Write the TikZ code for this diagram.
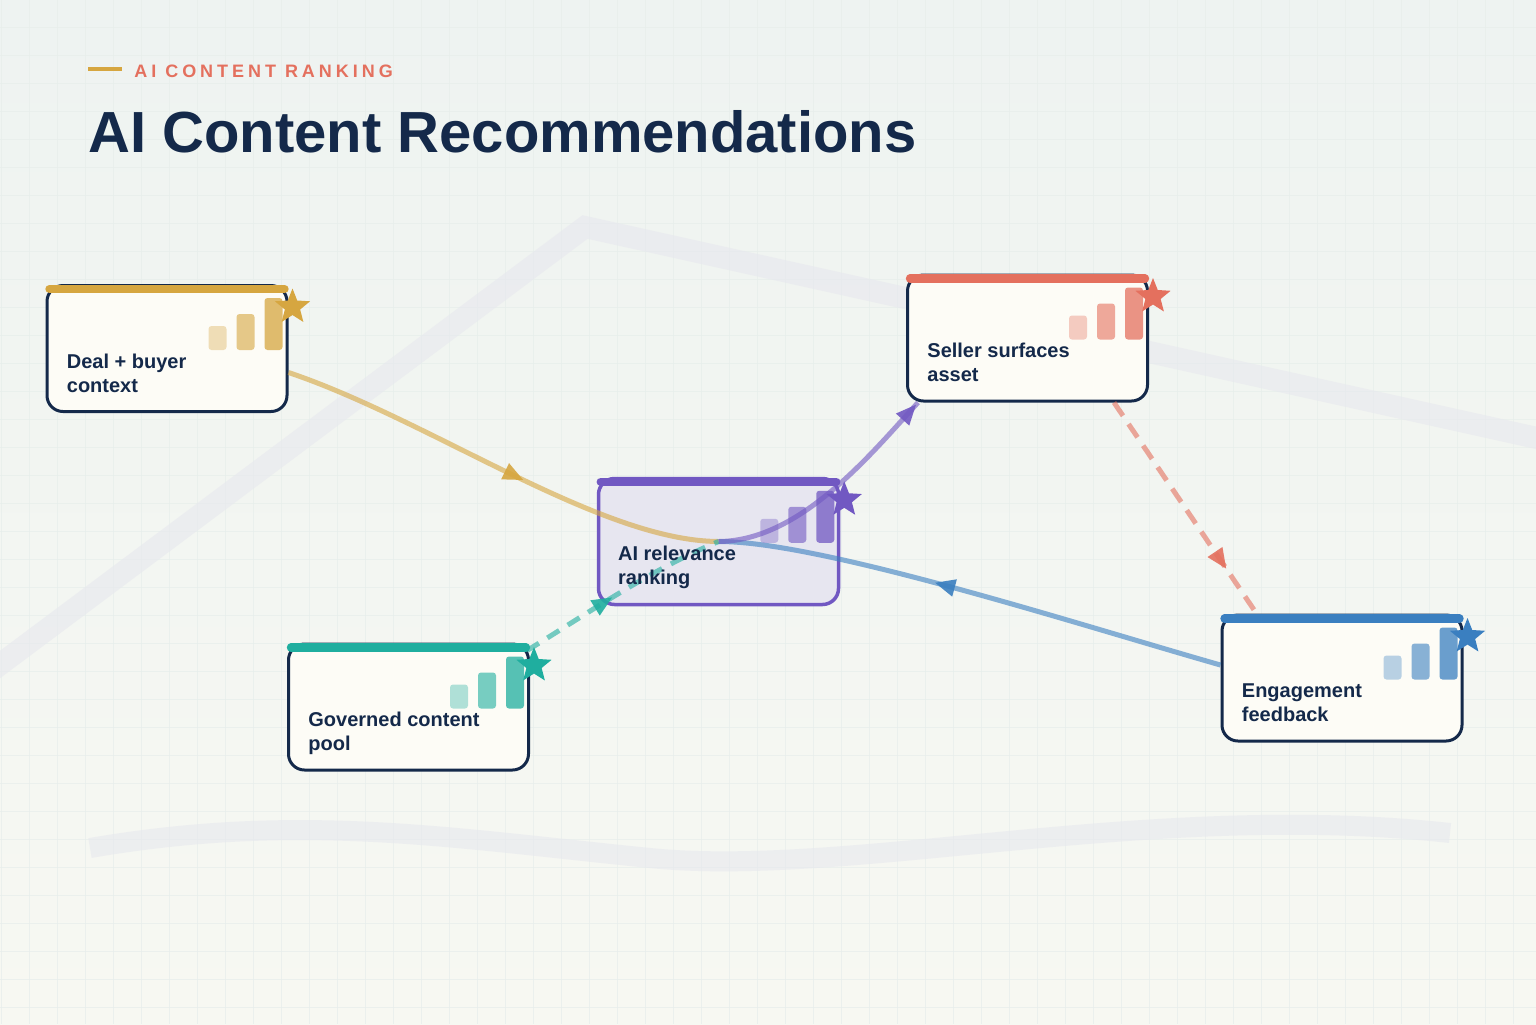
\documentclass[tikz,border=0pt]{standalone}
\usepackage{fontspec}
\setmainfont{Liberation Sans}
\usetikzlibrary{calc,arrows.meta,decorations.markings,shapes.geometric}
\definecolor{navy}{HTML}{14294A}
\definecolor{cgold}{HTML}{D6A640}
\definecolor{ccoral}{HTML}{E4705E}
\definecolor{cpurp}{HTML}{7158C2}
\definecolor{cteal}{HTML}{1FAE9F}
\definecolor{cblue}{HTML}{3A7FC0}
\definecolor{bgtop}{HTML}{EEF3F1}
\definecolor{bgbot}{HTML}{F7F8F2}
\definecolor{gridc}{HTML}{E7EEEB}
\definecolor{bandc}{HTML}{E7E8EE}
\definecolor{cardfill}{HTML}{FDFCF6}
\definecolor{aifill}{HTML}{E7E6F0}
\newcommand\arrowtri[1]{\fill[#1, fill opacity=.9] (6pt,0) -- (-4pt,4.5pt) -- (-4pt,-4.5pt) -- cycle;}
\newcommand\mkdeco[4]{%
  \fill[#2, opacity=.35, rounded corners=1.5pt] ($(#1.north east)+(-80,42)$) rectangle ($(#1.north east)+(-62,66)$);
  \fill[#2, opacity=.6, rounded corners=1.5pt] ($(#1.north east)+(-52,30)$) rectangle ($(#1.north east)+(-34,66)$);
  \fill[#2, opacity=.75, rounded corners=1.5pt] ($(#1.north east)+(-24,14)$) rectangle ($(#1.north east)+(-6,66)$);
  \node[star, star points=5, star point ratio=2.3, minimum size=18.5pt, inner sep=0, fill=#2] (#1star) at ($(#1.north east)+(4,23)$) {};
  \draw[#2, line width=4.2pt, line cap=round] ($(#1.north west)+(4,5)$) -- ($(#1.north east)+(-4,5)$);
  \node[lbl] (#1la) at ($(#1.north west)+(21,84)$) {#3};
  \node[lbl] (#1lb) at ($(#1.north west)+(21,108)$) {#4};
}
\begin{document}
\begin{tikzpicture}[x=0.5pt,y=-0.5pt,
  card/.style={rectangle, rounded corners=8pt, line width=1.5pt, inner sep=0, minimum width=120pt, minimum height=63pt, draw=navy, fill=cardfill},
  lbl/.style={anchor=base west, inner sep=0, text=navy, font=\fontsize{10}{12}\selectfont\bfseries},
  flow/.style={line width=2.5pt, postaction={decorate}},
  arr/.style 2 args={decoration={markings, mark=at position #1 with {\arrowtri{#2}}}}
]
\useasboundingbox (0,0) rectangle (1536,1024);
\shade[top color=bgtop, bottom color=bgbot] (0,0) rectangle (1536,1024);
\foreach \x in {1,29,...,1536} \draw[gridc, line width=0.5pt, opacity=.7] (\x,0) -- (\x,1024);
\foreach \y in {27,55,...,1024} \draw[gridc, line width=0.5pt, opacity=.7] (0,\y) -- (1536,\y);
% background bands
\draw[bandc, line width=11pt, opacity=.6] (-10,672) -- (585,227) -- (1546,440);
\draw[bandc, line width=10pt, opacity=.6] (90,848) .. controls (300,812) and (450,838) .. (650,858) .. controls (850,878) and (1150,800) .. (1450,833);
% header
\draw[cgold, line width=2pt] (88,69) -- (122,69);
\node[anchor=base west, inner sep=0, text=ccoral, font=\fontsize{9}{11}\selectfont\bfseries\addfontfeature{LetterSpace=22}] (kicker) at (134,77) {AI CONTENT RANKING};
\node[anchor=base west, inner sep=0, text=navy, font=\fontsize{29}{34}\selectfont\bfseries] (title) at (88,152) {AI Content Recommendations};
% cards
\node[card] (deal) at (167,348.5) {};
\node[card] (seller) at (1027.5,338) {};
\node[card, draw=cpurp, fill=aifill, line width=1.75pt] (ai) at (718.5,541.5) {};
\node[card] (gov) at (408.5,707) {};
\node[card] (eng) at (1342,678) {};
% connectors
\draw[flow, draw=cgold, draw opacity=.6, arr={.53}{cgold}] ([yshift=-12pt]deal.east) .. controls (430,420) and (600,541) .. (ai.center);
\draw[flow, draw=cblue, draw opacity=.6, arr={.55}{cblue}] ([yshift=6.5pt]eng.west) .. controls (1080,625) and (820,541) .. (ai.center);
\draw[flow, draw=cpurp, draw opacity=.6, arr={.94}{cpurp}] (ai.center) .. controls (800,541) and (870,455) .. ([xshift=6pt]seller.south west);
\draw[flow, draw=cteal, draw opacity=.6, dash pattern=on 7pt off 5pt, arr={.4}{cteal}] ([xshift=-1.5pt,yshift=-4pt]gov.north east) .. controls (590,612) and (650,570) .. (ai.center);
\draw[flow, draw=ccoral, draw opacity=.6, dash pattern=on 8pt off 5pt, arr={.74}{ccoral}] ([xshift=-17.5pt]seller.south east) -- ([xshift=18pt]eng.north west);
% card decorations
\mkdeco{deal}{cgold}{Deal + buyer}{context}
\mkdeco{seller}{ccoral}{Seller surfaces}{asset}
\mkdeco{ai}{cpurp}{AI relevance}{ranking}
\mkdeco{gov}{cteal}{Governed content}{pool}
\mkdeco{eng}{cblue}{Engagement}{feedback}
\end{tikzpicture}
\end{document}
